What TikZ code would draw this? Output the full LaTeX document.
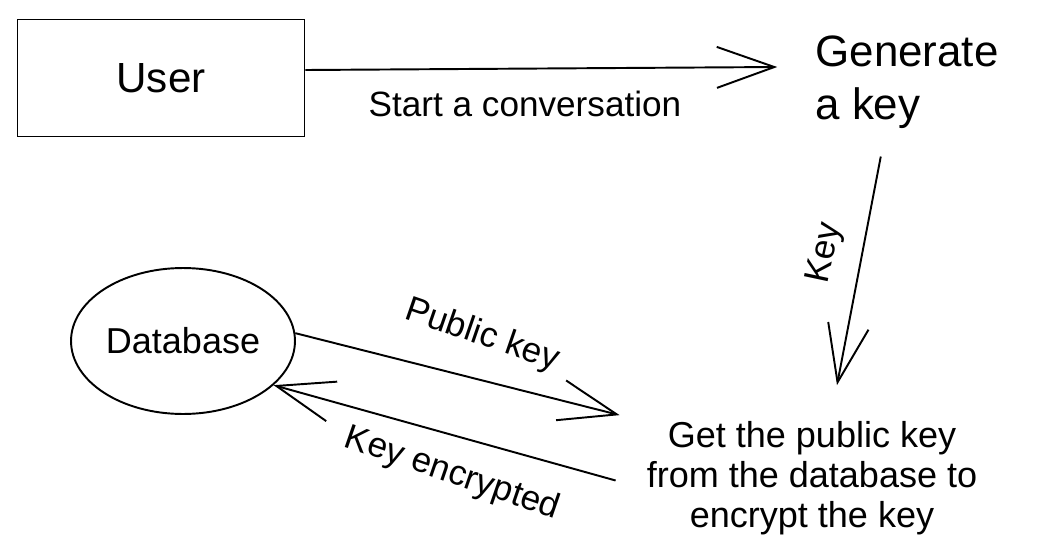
\documentclass[tikz,border=0pt]{standalone}
\usepackage{fontspec}
\setmainfont{Liberation Sans}
\usepackage{tikz}
\usetikzlibrary{arrows.meta,shapes.geometric}
\newcommand{\boxnode}{\node[rectangle,draw,line width=1.1pt,minimum width=5.74cm,minimum height=2.34cm,font=\fontsize{24}{29}\selectfont]}
\newcommand{\dbnode}{\node[ellipse,draw,line width=1.1pt,inner sep=0pt,minimum width=4.48cm,minimum height=2.92cm,font=\fontsize{20.5}{25}\selectfont]}
\newcommand{\txtnode}{\node[align=center,font=\fontsize{20.5}{22.7}\selectfont]}
\newcommand{\lblnode}{\node[font=\fontsize{20}{24}\selectfont]}
\tikzset{sk/.style={-{Straight Barb[length=1.15cm,width=0.82cm]},line width=1.1pt}}

\begin{document}
\begin{tikzpicture}[x=0.02cm,y=-0.02cm]
          \useasboundingbox (0,0) rectangle (1039,555);
          \boxnode (user) at (161,78) {User}; %
          \node[align=left,font=\fontsize{25}{30}\selectfont] (gen) at (907,82) {Generate\\a key}; %
          \dbnode (db) at (183,341) {Database}; %
          \txtnode (get) at (812,478) {Get the public key\\from the database to\\encrypt the key};
          \lblnode (lstart) at (525,104) {Start a conversation};
          \lblnode[rotate=78] (lkey) at (826,253) {Key};
          \lblnode[rotate=-19] (lpub) at (482,336) {Public key};
          \lblnode[rotate=-19] (lenc) at (452,474) {Key encrypted};
          \draw[sk] ([yshift=0.16cm]user.east) -- ([xshift=-0.64cm,yshift=0.3cm]gen.west);
          \draw[sk,shorten <=0.45cm] ([xshift=-0.44cm]gen.south) -- ([xshift=0.5cm,yshift=0.6cm]get.north);
          \draw[sk] (db.4) -- ([xshift=-0.42cm]get.north west);
          \draw[sk] ([xshift=-0.5cm,yshift=-0.05cm]get.west) -- (db.-26);
        \end{tikzpicture}
\end{document}
